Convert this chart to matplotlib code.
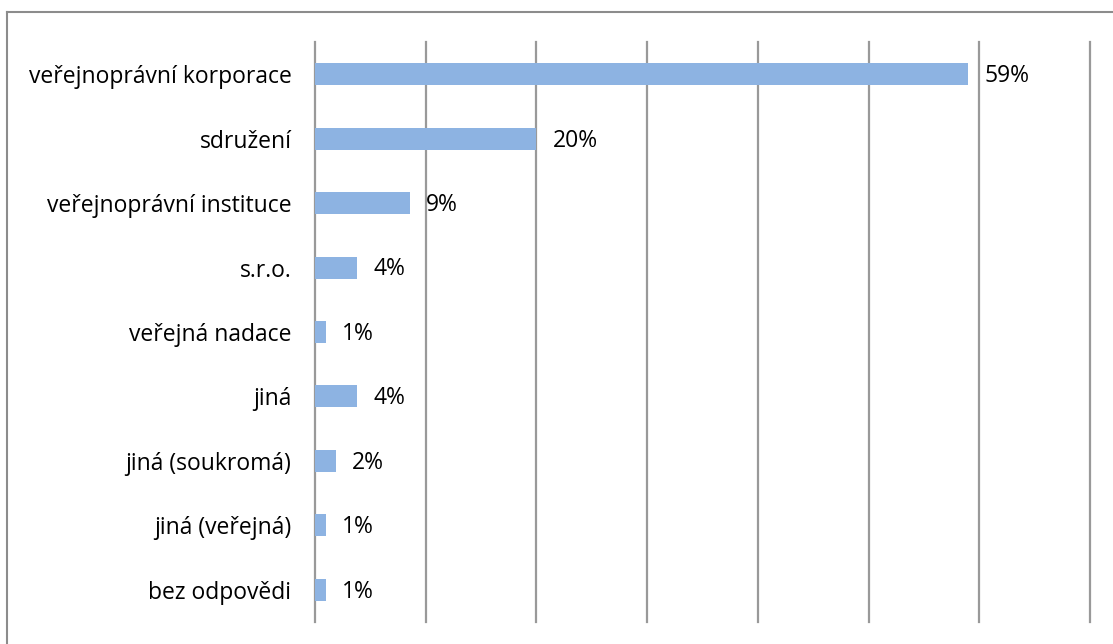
import matplotlib
matplotlib.use("Agg")
import matplotlib.pyplot as plt
from matplotlib.lines import Line2D

categories = [
    "veřejnoprávní korporace",
    "sdružení",
    "veřejnoprávní instituce",
    "s.r.o.",
    "veřejná nadace",
    "jiná",
    "jiná (soukromá)",
    "jiná (veřejná)",
    "bez odpovědi",
]
values = [59.0, 20.0, 8.6, 3.8, 1.0, 3.8, 1.9, 1.0, 1.0]
labels = ["59%", "20%", "9%", "4%", "1%", "4%", "2%", "1%", "1%"]
grid_ticks = [0, 10, 20, 30, 40, 50, 60, 70]

plt.rcParams["font.family"] = ["Open Sans", "DejaVu Sans"]

W, H = 1113, 644
fig = plt.figure(figsize=(W / 100, H / 100), dpi=100, facecolor="white")
ax = fig.add_axes([315 / W, 1 - 622 / H, (1090 - 315) / W, (622 - 42) / H])

ypos = list(range(len(categories)))
ax.barh(ypos, values, height=0.34, color="#8DB3E2", edgecolor="none", zorder=2)
for y, v, lab in zip(ypos, values, labels):
    ax.text(v + 1.45, y + 0.03, lab, va="center", ha="left", fontsize=16.5, color="black", zorder=3)

ax.set_xlim(0, 70)
ax.set_ylim(len(categories) - 0.5, -0.5)
ax.set_yticks(ypos)
ax.set_yticklabels(categories, fontsize=16.5)
ax.tick_params(axis="y", length=0, pad=17)
ax.set_xticks(grid_ticks)
ax.tick_params(axis="x", length=0, labelbottom=False)
ax.grid(axis="x", color="#999999", linewidth=1.6, zorder=1)
for gl in ax.get_xgridlines():
    gl.set_clip_on(False)
for s in ax.spines.values():
    s.set_visible(False)

fig.add_artist(Line2D([7 / W, 7 / W], [0, 1 - 12 / H], color="#8c8c8c", linewidth=1.5))
fig.add_artist(Line2D([7 / W, 1], [1 - 12 / H, 1 - 12 / H], color="#8c8c8c", linewidth=1.5))

fig.savefig("out.png", dpi=100, facecolor="white")
